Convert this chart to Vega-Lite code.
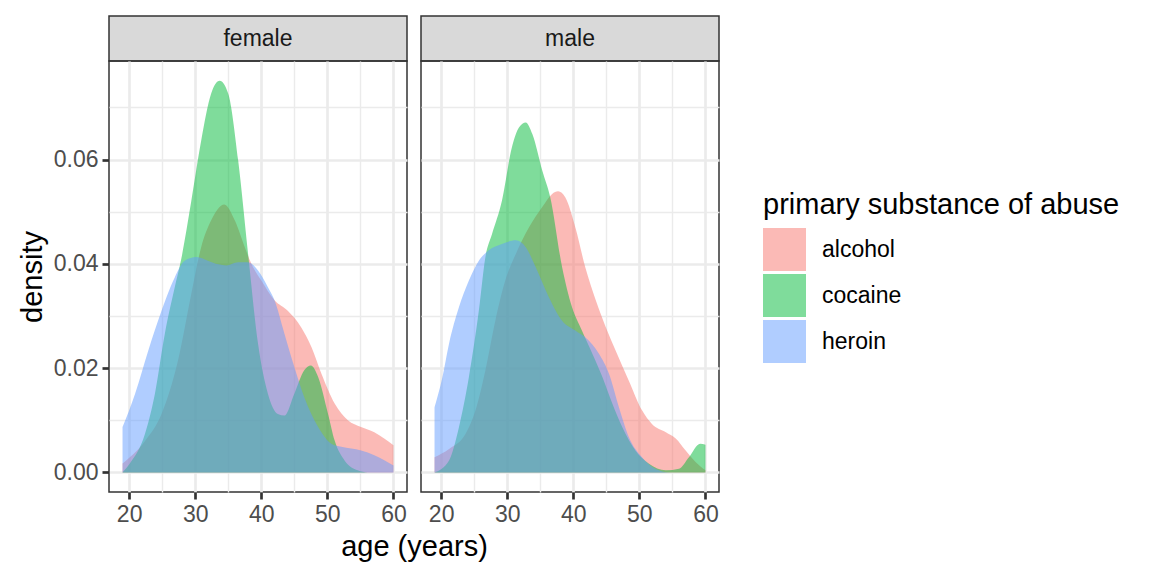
{
  "$schema": "https://vega.github.io/schema/vega-lite/v6.json",
  "background": "white",
  "padding": {"left": 17, "top": 15, "right": 5, "bottom": 5},
  "config": {
    "font": "Liberation Sans",
    "view": {"stroke": "#333333", "strokeWidth": 1.5},
    "axis": {
      "domain": false,
      "gridColor": "#EBEBEB",
      "tickColor": "#333333",
      "tickSize": 7,
      "tickWidth": 2.7,
      "labelColor": "#4D4D4D",
      "labelFont": "Liberation Sans",
      "labelFontSize": 23,
      "labelPadding": 4,
      "labelOverlap": false,
      "labelFlush": false,
      "titleFont": "Liberation Sans",
      "titleFontSize": 29,
      "titleFontWeight": "normal",
      "titleColor": "#000000"
    }
  },
  "datasets": {
    "dens": [
      {"sex": "female", "substance": "alcohol", "age": 19.0, "density": 0.0017},
      {"sex": "female", "substance": "alcohol", "age": 22.4, "density": 0.0060},
      {"sex": "female", "substance": "alcohol", "age": 24.9, "density": 0.0112},
      {"sex": "female", "substance": "alcohol", "age": 27.4, "density": 0.0215},
      {"sex": "female", "substance": "alcohol", "age": 29.4, "density": 0.0342},
      {"sex": "female", "substance": "alcohol", "age": 30.9, "density": 0.0432},
      {"sex": "female", "substance": "alcohol", "age": 32.4, "density": 0.0483},
      {"sex": "female", "substance": "alcohol", "age": 34.4, "density": 0.0514},
      {"sex": "female", "substance": "alcohol", "age": 36.0, "density": 0.0483},
      {"sex": "female", "substance": "alcohol", "age": 37.5, "density": 0.0432},
      {"sex": "female", "substance": "alcohol", "age": 38.5, "density": 0.0400},
      {"sex": "female", "substance": "alcohol", "age": 40.0, "density": 0.0368},
      {"sex": "female", "substance": "alcohol", "age": 42.0, "density": 0.0330},
      {"sex": "female", "substance": "alcohol", "age": 44.0, "density": 0.0310},
      {"sex": "female", "substance": "alcohol", "age": 46.0, "density": 0.0279},
      {"sex": "female", "substance": "alcohol", "age": 47.6, "density": 0.0240},
      {"sex": "female", "substance": "alcohol", "age": 49.1, "density": 0.0189},
      {"sex": "female", "substance": "alcohol", "age": 51.1, "density": 0.0132},
      {"sex": "female", "substance": "alcohol", "age": 53.1, "density": 0.0100},
      {"sex": "female", "substance": "alcohol", "age": 55.1, "density": 0.0087},
      {"sex": "female", "substance": "alcohol", "age": 57.1, "density": 0.0077},
      {"sex": "female", "substance": "alcohol", "age": 58.6, "density": 0.0065},
      {"sex": "female", "substance": "alcohol", "age": 60.0, "density": 0.0052},

      {"sex": "female", "substance": "cocaine", "age": 19.0, "density": 0.0},
      {"sex": "female", "substance": "cocaine", "age": 20.1, "density": 0.0017},
      {"sex": "female", "substance": "cocaine", "age": 22.4, "density": 0.0074},
      {"sex": "female", "substance": "cocaine", "age": 23.9, "density": 0.0151},
      {"sex": "female", "substance": "cocaine", "age": 25.4, "density": 0.0266},
      {"sex": "female", "substance": "cocaine", "age": 26.9, "density": 0.0355},
      {"sex": "female", "substance": "cocaine", "age": 27.9, "density": 0.0410},
      {"sex": "female", "substance": "cocaine", "age": 29.4, "density": 0.0520},
      {"sex": "female", "substance": "cocaine", "age": 30.9, "density": 0.0636},
      {"sex": "female", "substance": "cocaine", "age": 32.4, "density": 0.0726},
      {"sex": "female", "substance": "cocaine", "age": 33.7, "density": 0.0751},
      {"sex": "female", "substance": "cocaine", "age": 35.0, "density": 0.0726},
      {"sex": "female", "substance": "cocaine", "age": 36.5, "density": 0.0598},
      {"sex": "female", "substance": "cocaine", "age": 38.0, "density": 0.0419},
      {"sex": "female", "substance": "cocaine", "age": 39.5, "density": 0.0247},
      {"sex": "female", "substance": "cocaine", "age": 41.0, "density": 0.0151},
      {"sex": "female", "substance": "cocaine", "age": 42.5, "density": 0.0112},
      {"sex": "female", "substance": "cocaine", "age": 43.5, "density": 0.0109},
      {"sex": "female", "substance": "cocaine", "age": 45.0, "density": 0.0151},
      {"sex": "female", "substance": "cocaine", "age": 46.5, "density": 0.0196},
      {"sex": "female", "substance": "cocaine", "age": 47.5, "density": 0.0205},
      {"sex": "female", "substance": "cocaine", "age": 48.6, "density": 0.0183},
      {"sex": "female", "substance": "cocaine", "age": 50.1, "density": 0.0112},
      {"sex": "female", "substance": "cocaine", "age": 51.1, "density": 0.0061},
      {"sex": "female", "substance": "cocaine", "age": 52.6, "density": 0.0023},
      {"sex": "female", "substance": "cocaine", "age": 54.6, "density": 0.0004},
      {"sex": "female", "substance": "cocaine", "age": 56.1, "density": 0.0},
      {"sex": "female", "substance": "cocaine", "age": 58.0, "density": 0.0},
      {"sex": "female", "substance": "cocaine", "age": 60.0, "density": 0.0},

      {"sex": "female", "substance": "heroin", "age": 19.0, "density": 0.0087},
      {"sex": "female", "substance": "heroin", "age": 20.9, "density": 0.0151},
      {"sex": "female", "substance": "heroin", "age": 22.9, "density": 0.0234},
      {"sex": "female", "substance": "heroin", "age": 24.9, "density": 0.0310},
      {"sex": "female", "substance": "heroin", "age": 26.9, "density": 0.0374},
      {"sex": "female", "substance": "heroin", "age": 28.4, "density": 0.0406},
      {"sex": "female", "substance": "heroin", "age": 30.2, "density": 0.0413},
      {"sex": "female", "substance": "heroin", "age": 31.9, "density": 0.0406},
      {"sex": "female", "substance": "heroin", "age": 33.5, "density": 0.0399},
      {"sex": "female", "substance": "heroin", "age": 34.7, "density": 0.0397},
      {"sex": "female", "substance": "heroin", "age": 36.5, "density": 0.0403},
      {"sex": "female", "substance": "heroin", "age": 38.0, "density": 0.0403},
      {"sex": "female", "substance": "heroin", "age": 39.5, "density": 0.0387},
      {"sex": "female", "substance": "heroin", "age": 41.0, "density": 0.0355},
      {"sex": "female", "substance": "heroin", "age": 42.0, "density": 0.0330},
      {"sex": "female", "substance": "heroin", "age": 43.5, "density": 0.0266},
      {"sex": "female", "substance": "heroin", "age": 45.0, "density": 0.0202},
      {"sex": "female", "substance": "heroin", "age": 46.5, "density": 0.0144},
      {"sex": "female", "substance": "heroin", "age": 48.6, "density": 0.0087},
      {"sex": "female", "substance": "heroin", "age": 50.6, "density": 0.0055},
      {"sex": "female", "substance": "heroin", "age": 52.1, "density": 0.0049},
      {"sex": "female", "substance": "heroin", "age": 55.1, "density": 0.0042},
      {"sex": "female", "substance": "heroin", "age": 57.1, "density": 0.0033},
      {"sex": "female", "substance": "heroin", "age": 60.0, "density": 0.0013},

      {"sex": "male", "substance": "alcohol", "age": 19.0, "density": 0.0029},
      {"sex": "male", "substance": "alcohol", "age": 21.2, "density": 0.0045},
      {"sex": "male", "substance": "alcohol", "age": 23.7, "density": 0.0074},
      {"sex": "male", "substance": "alcohol", "age": 25.2, "density": 0.0119},
      {"sex": "male", "substance": "alcohol", "age": 26.7, "density": 0.0196},
      {"sex": "male", "substance": "alcohol", "age": 28.2, "density": 0.0291},
      {"sex": "male", "substance": "alcohol", "age": 29.7, "density": 0.0368},
      {"sex": "male", "substance": "alcohol", "age": 31.3, "density": 0.0419},
      {"sex": "male", "substance": "alcohol", "age": 33.3, "density": 0.0470},
      {"sex": "male", "substance": "alcohol", "age": 35.3, "density": 0.0509},
      {"sex": "male", "substance": "alcohol", "age": 36.8, "density": 0.0534},
      {"sex": "male", "substance": "alcohol", "age": 37.7, "density": 0.0539},
      {"sex": "male", "substance": "alcohol", "age": 38.8, "density": 0.0527},
      {"sex": "male", "substance": "alcohol", "age": 40.3, "density": 0.0470},
      {"sex": "male", "substance": "alcohol", "age": 41.8, "density": 0.0394},
      {"sex": "male", "substance": "alcohol", "age": 43.4, "density": 0.0330},
      {"sex": "male", "substance": "alcohol", "age": 44.9, "density": 0.0279},
      {"sex": "male", "substance": "alcohol", "age": 46.4, "density": 0.0234},
      {"sex": "male", "substance": "alcohol", "age": 48.4, "density": 0.0176},
      {"sex": "male", "substance": "alcohol", "age": 50.4, "density": 0.0119},
      {"sex": "male", "substance": "alcohol", "age": 51.9, "density": 0.0093},
      {"sex": "male", "substance": "alcohol", "age": 54.0, "density": 0.0077},
      {"sex": "male", "substance": "alcohol", "age": 55.5, "density": 0.0065},
      {"sex": "male", "substance": "alcohol", "age": 57.0, "density": 0.0042},
      {"sex": "male", "substance": "alcohol", "age": 58.5, "density": 0.0020},
      {"sex": "male", "substance": "alcohol", "age": 60.0, "density": 0.0004},

      {"sex": "male", "substance": "cocaine", "age": 19.0, "density": 0.0},
      {"sex": "male", "substance": "cocaine", "age": 21.2, "density": 0.0023},
      {"sex": "male", "substance": "cocaine", "age": 22.7, "density": 0.0087},
      {"sex": "male", "substance": "cocaine", "age": 24.2, "density": 0.0183},
      {"sex": "male", "substance": "cocaine", "age": 25.7, "density": 0.0310},
      {"sex": "male", "substance": "cocaine", "age": 26.7, "density": 0.0413},
      {"sex": "male", "substance": "cocaine", "age": 27.7, "density": 0.0457},
      {"sex": "male", "substance": "cocaine", "age": 29.2, "density": 0.0521},
      {"sex": "male", "substance": "cocaine", "age": 30.7, "density": 0.0623},
      {"sex": "male", "substance": "cocaine", "age": 31.8, "density": 0.0662},
      {"sex": "male", "substance": "cocaine", "age": 32.8, "density": 0.0671},
      {"sex": "male", "substance": "cocaine", "age": 33.8, "density": 0.0649},
      {"sex": "male", "substance": "cocaine", "age": 35.3, "density": 0.0579},
      {"sex": "male", "substance": "cocaine", "age": 36.5, "density": 0.0528},
      {"sex": "male", "substance": "cocaine", "age": 38.3, "density": 0.0394},
      {"sex": "male", "substance": "cocaine", "age": 39.8, "density": 0.0317},
      {"sex": "male", "substance": "cocaine", "age": 41.3, "density": 0.0272},
      {"sex": "male", "substance": "cocaine", "age": 42.9, "density": 0.0227},
      {"sex": "male", "substance": "cocaine", "age": 44.4, "density": 0.0183},
      {"sex": "male", "substance": "cocaine", "age": 45.9, "density": 0.0132},
      {"sex": "male", "substance": "cocaine", "age": 47.4, "density": 0.0087},
      {"sex": "male", "substance": "cocaine", "age": 49.4, "density": 0.0042},
      {"sex": "male", "substance": "cocaine", "age": 51.4, "density": 0.0017},
      {"sex": "male", "substance": "cocaine", "age": 54.0, "density": 0.0004},
      {"sex": "male", "substance": "cocaine", "age": 56.0, "density": 0.0007},
      {"sex": "male", "substance": "cocaine", "age": 57.5, "density": 0.0029},
      {"sex": "male", "substance": "cocaine", "age": 59.2, "density": 0.0055},
      {"sex": "male", "substance": "cocaine", "age": 60.0, "density": 0.0053},

      {"sex": "male", "substance": "heroin", "age": 19.0, "density": 0.0125},
      {"sex": "male", "substance": "heroin", "age": 20.2, "density": 0.0183},
      {"sex": "male", "substance": "heroin", "age": 21.2, "density": 0.0247},
      {"sex": "male", "substance": "heroin", "age": 22.7, "density": 0.0317},
      {"sex": "male", "substance": "heroin", "age": 24.2, "density": 0.0368},
      {"sex": "male", "substance": "heroin", "age": 25.7, "density": 0.0406},
      {"sex": "male", "substance": "heroin", "age": 27.2, "density": 0.0426},
      {"sex": "male", "substance": "heroin", "age": 29.2, "density": 0.0438},
      {"sex": "male", "substance": "heroin", "age": 31.3, "density": 0.0445},
      {"sex": "male", "substance": "heroin", "age": 32.8, "density": 0.0432},
      {"sex": "male", "substance": "heroin", "age": 34.3, "density": 0.0394},
      {"sex": "male", "substance": "heroin", "age": 36.3, "density": 0.0336},
      {"sex": "male", "substance": "heroin", "age": 38.3, "density": 0.0291},
      {"sex": "male", "substance": "heroin", "age": 40.3, "density": 0.0272},
      {"sex": "male", "substance": "heroin", "age": 41.8, "density": 0.0259},
      {"sex": "male", "substance": "heroin", "age": 43.9, "density": 0.0227},
      {"sex": "male", "substance": "heroin", "age": 45.4, "density": 0.0189},
      {"sex": "male", "substance": "heroin", "age": 46.9, "density": 0.0125},
      {"sex": "male", "substance": "heroin", "age": 48.4, "density": 0.0068},
      {"sex": "male", "substance": "heroin", "age": 50.4, "density": 0.0029},
      {"sex": "male", "substance": "heroin", "age": 52.4, "density": 0.0007},
      {"sex": "male", "substance": "heroin", "age": 54.5, "density": 0.0},
      {"sex": "male", "substance": "heroin", "age": 57.0, "density": 0.0},
      {"sex": "male", "substance": "heroin", "age": 60.0, "density": 0.0}
    ]
  },
  "columns": 2,
  "bounds": "flush",
  "spacing": {"row": 0, "column": 14},
  "concat": [
    {
      "width": 298,
      "height": 45,
      "view": {"fill": "#D9D9D9", "stroke": "#333333", "strokeWidth": 1.5},
      "data": {"values": [{"sex": "female"}]},
      "mark": {"type": "text", "fontSize": 23, "color": "#1A1A1A", "font": "Liberation Sans"},
      "encoding": {"text": {"field": "sex", "type": "nominal"}}
    },
    {
      "width": 298,
      "height": 45,
      "view": {"fill": "#D9D9D9", "stroke": "#333333", "strokeWidth": 1.5},
      "data": {"values": [{"sex": "male"}]},
      "mark": {"type": "text", "fontSize": 23, "color": "#1A1A1A", "font": "Liberation Sans"},
      "encoding": {"text": {"field": "sex", "type": "nominal"}}
    },
    {
      "width": 298,
      "height": 431,
      "data": {"name": "dens"},
      "transform": [{"filter": "datum.sex === 'female'"}],
      "mark": {"type": "area", "opacity": 0.5, "interpolate": "monotone"},
      "encoding": {
        "x": {
          "field": "age", "type": "quantitative",
          "scale": {"domain": [16.95, 62.05], "nice": false, "zero": false},
          "axis": {
            "values": [20, 25, 30, 35, 40, 45, 50, 55, 60],
            "labelExpr": "datum.value % 10 === 0 ? datum.label : ''",
            "tickOpacity": {"condition": {"test": "datum.value % 10 === 0", "value": 1}, "value": 0},
            "gridWidth": {"condition": {"test": "datum.value % 10 === 0", "value": 2.7}, "value": 1.4},
            "title": "age (years)",
            "titleX": 305,
            "titleAlign": "center",
            "titlePadding": 6
          }
        },
        "y": {
          "field": "density", "type": "quantitative", "stack": null,
          "scale": {"domain": [-0.00376, 0.0789], "nice": false, "zero": false},
          "axis": {
            "values": [0, 0.01, 0.02, 0.03, 0.04, 0.05, 0.06, 0.07],
            "format": ".2f",
            "labelExpr": "round(datum.value * 100) % 2 === 0 ? datum.label : ''",
            "tickOpacity": {"condition": {"test": "round(datum.value * 100) % 2 === 0", "value": 1}, "value": 0},
            "gridWidth": {"condition": {"test": "round(datum.value * 100) % 2 === 0", "value": 2.7}, "value": 1.4},
            "title": "density",
            "titlePadding": 6
          }
        },
        "y2": {"datum": 0},
        "color": {
          "field": "substance", "type": "nominal",
          "scale": {"domain": ["alcohol", "cocaine", "heroin"], "range": ["#F8766D", "#00BA38", "#619CFF"]},
          "legend": {
            "title": "primary substance of abuse",
            "orient": "none",
            "legendX": 654,
            "legendY": 175,
            "titleFontSize": 29,
            "titleFontWeight": "normal",
            "titleColor": "#000000",
            "titleFont": "Liberation Sans",
            "titlePadding": 8,
            "titleLimit": 600,
            "labelFontSize": 23,
            "labelColor": "#000000",
            "labelFont": "Liberation Sans",
            "labelOffset": 16,
            "labelLimit": 300,
            "symbolType": "square",
            "symbolSize": 1849,
            "symbolOpacity": 0.5,
            "symbolStrokeWidth": 0,
            "rowPadding": 3
          }
        }
      }
    },
    {
      "width": 298,
      "height": 431,
      "data": {"name": "dens"},
      "transform": [{"filter": "datum.sex === 'male'"}],
      "mark": {"type": "area", "opacity": 0.5, "interpolate": "monotone"},
      "encoding": {
        "x": {
          "field": "age", "type": "quantitative",
          "scale": {"domain": [16.95, 62.05], "nice": false, "zero": false},
          "axis": {
            "values": [20, 25, 30, 35, 40, 45, 50, 55, 60],
            "labelExpr": "datum.value % 10 === 0 ? datum.label : ''",
            "tickOpacity": {"condition": {"test": "datum.value % 10 === 0", "value": 1}, "value": 0},
            "gridWidth": {"condition": {"test": "datum.value % 10 === 0", "value": 2.7}, "value": 1.4},
            "title": null
          }
        },
        "y": {
          "field": "density", "type": "quantitative", "stack": null,
          "scale": {"domain": [-0.00376, 0.0789], "nice": false, "zero": false},
          "axis": {
            "values": [0, 0.01, 0.02, 0.03, 0.04, 0.05, 0.06, 0.07],
            "labels": false,
            "ticks": false,
            "title": null,
            "gridWidth": {"condition": {"test": "round(datum.value * 100) % 2 === 0", "value": 2.7}, "value": 1.4}
          }
        },
        "y2": {"datum": 0},
        "color": {"field": "substance", "type": "nominal"}
      }
    }
  ]
}
